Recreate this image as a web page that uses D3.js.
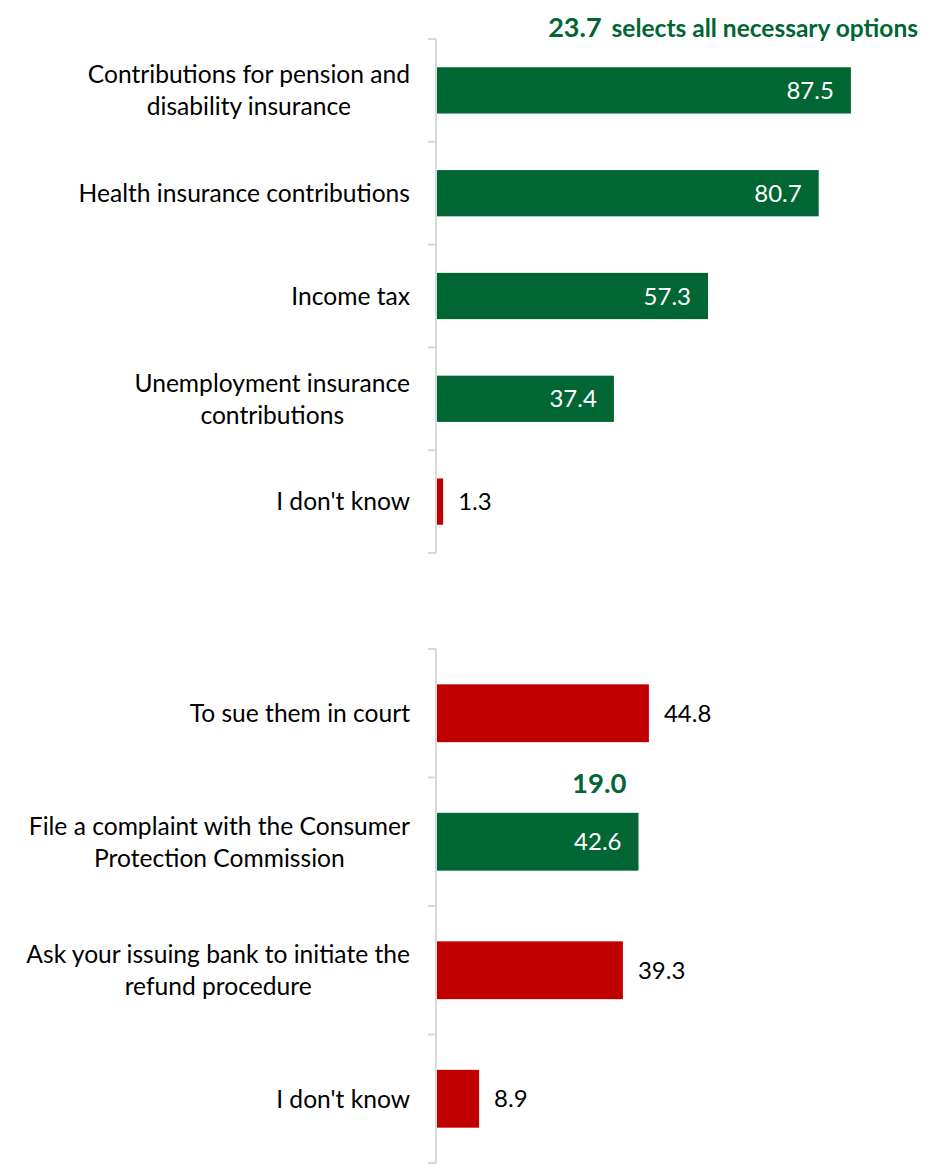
<!DOCTYPE html>
<html>
<head>
<meta charset="utf-8">
<script src="https://cdn.jsdelivr.net/npm/d3@7"></script>
<style>
  body { margin: 0; background: #fff; }
  text { font-family: Lato, "Open Sans", sans-serif; }
</style>
</head>
<body>
<svg id="chart"></svg>
<script>
/* top question: which contributions are paid */
const topCategories = [
    ["Contributions for pension and", "disability insurance"],
    ["Health insurance contributions"],
    ["Income tax"],
    ["Unemployment insurance", "contributions"],
    ["I don't know"]
];
const topValues = [87.5, 80.7, 57.3, 37.4, 1.3];
const topCorrect = [true, true, true, true, false];
const topAllCorrect = 23.7;

/* bottom question: what to do */
const bottomCategories = [
    ["To sue them in court"],
    ["File a complaint with the Consumer", "Protection Commission"],
    ["Ask your issuing bank to initiate the", "refund procedure"],
    ["I don't know"]
];
const bottomValues = [44.8, 42.6, 39.3, 8.9];
const bottomCorrect = [false, true, false, false];
const bottomAllCorrect = 19.0;

let width = 948;
let height = 1167;
let green = "#006633";
let red = "#C00000";
let axisGray = "#d9d9d9";

let svg = d3.select("svg#chart")
    .attr("width", width)
    .attr("height", height);

let xScale = d3.scaleLinear()
    .domain([0, 100])
    .range([437, 910]);

function drawPanel(categories, values, correct, yTop, yBottom) {
    let idx = d3.range(categories.length);
    let yScale = d3.scaleBand()
        .domain(idx)
        .range([yTop, yBottom])
        .paddingInner(0.55)
        .paddingOuter(0.275);

    let g = svg.append("g");

    // axis line + ticks at band boundaries
    let boundaries = idx.map(i => yScale(i) - yScale.step() * 0.275).concat([yBottom]);
    g.append("line")
        .attr("x1", 436).attr("x2", 436)
        .attr("y1", yTop).attr("y2", yBottom)
        .attr("stroke", axisGray)
        .attr("stroke-width", 2);
    g.selectAll("line.tick")
        .data(boundaries)
        .enter().append("line")
        .attr("class", "tick")
        .attr("x1", 428).attr("x2", 436)
        .attr("y1", d => d).attr("y2", d => d)
        .attr("stroke", axisGray)
        .attr("stroke-width", 2);

    // bars
    g.selectAll("rect.bar")
        .data(values)
        .enter().append("rect")
        .attr("class", "bar")
        .attr("x", xScale(0))
        .attr("y", (d, i) => yScale(i))
        .attr("width", d => xScale(d) - xScale(0))
        .attr("height", yScale.bandwidth())
        .attr("fill", (d, i) => correct[i] ? green : red);

    // value labels: inside for green, outside for red
    g.selectAll("text.value")
        .data(values)
        .enter().append("text")
        .attr("class", "value")
        .attr("x", (d, i) => correct[i] ? xScale(d) - 17 : xScale(d) + 15)
        .attr("y", (d, i) => yScale(i) + yScale.bandwidth() / 2)
        .attr("dy", "0.36em")
        .attr("text-anchor", (d, i) => correct[i] ? "end" : "start")
        .attr("fill", (d, i) => correct[i] ? "#ffffff" : "#000000")
        .style("font-size", "24px")
        .text(d => d.toFixed(1));

    // category labels, lines centered within a right-aligned block
    categories.forEach((lines, i) => {
        let cy = yScale(i) + yScale.bandwidth() / 2;
        let lineH = 32;
        let label = g.append("text")
            .attr("y", cy - (lines.length - 1) * lineH / 2)
            .style("font-size", "24.6px")
            .attr("fill", "#000");
        lines.forEach((ln, j) => {
            label.append("tspan")
                .attr("x", 0)
                .attr("dy", j == 0 ? "0.36em" : lineH)
                .text(ln);
        });
        let widths = [];
        label.selectAll("tspan").each(function() { widths.push(this.getComputedTextLength()); });
        let maxW = d3.max(widths);
        let center = 410 - maxW / 2;
        label.selectAll("tspan")
            .attr("x", center)
            .attr("text-anchor", "middle");
    });

    return yScale;
}

let yTopScale = drawPanel(topCategories, topValues, topCorrect, 39, 553);
let yBottomScale = drawPanel(bottomCategories, bottomValues, bottomCorrect, 649, 1163);

/* annotation for share of respondents who chose all correct answers */
let note = svg.append("text")
    .attr("x", 918)
    .attr("y", 37)
    .attr("text-anchor", "end")
    .attr("fill", green)
    .style("font-weight", "bold");
note.append("tspan").style("font-size", "27px").text(topAllCorrect.toFixed(1));
note.append("tspan").style("font-size", "24.5px").attr("dx", 10).text("selects all necessary options");

let correctIdx = bottomCorrect.indexOf(true);
svg.append("text")
    .attr("x", xScale(bottomValues[correctIdx]) - 12)
    .attr("y", yBottomScale(correctIdx) - 20)
    .attr("text-anchor", "end")
    .attr("fill", green)
    .style("font-weight", "bold")
    .style("font-size", "27.5px")
    .text(bottomAllCorrect.toFixed(1));
</script>
</body>
</html>
